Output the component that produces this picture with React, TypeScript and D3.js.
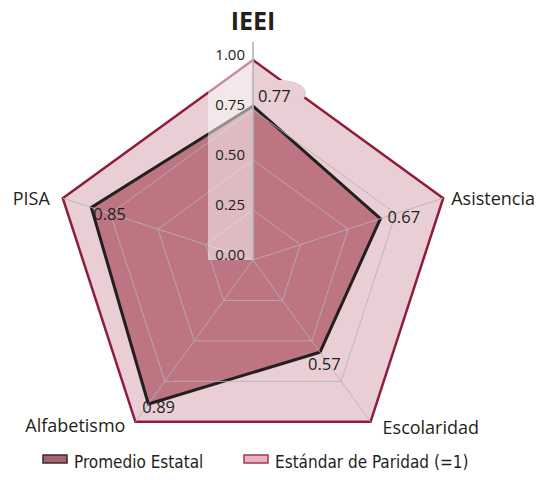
import React, { useEffect, useRef } from 'react';
import * as d3 from 'd3';

const axes = ['IEEI', 'Asistencia', 'Escolaridad', 'Alfabetismo', 'PISA'];
const promedio = [0.77, 0.67, 0.57, 0.89, 0.85];
const paridad = [1, 1, 1, 1, 1];
const ticks = [0, 0.25, 0.5, 0.75, 1];
const legendLabels = ['Promedio Estatal', 'Estándar de Paridad (=1)'];

const FONT = "'Open Sans', 'DejaVu Sans', sans-serif";

const App = () => {
  const ref = useRef<SVGSVGElement>(null);

  useEffect(() => {
    const svg = d3.select(ref.current);
    svg.selectAll('*').remove();

    const width = 542;
    const height = 495;
    const cx = 253;
    const cy = 260;
    const R = 200;

    svg.attr('width', width).attr('height', height);

    const r = d3.scaleLinear().domain([0, 1]).range([0, R]);
    const angle = d3.scaleLinear().domain([0, axes.length]).range([0, 2 * Math.PI]);
    const pt = (i: number, v: number): [number, number] => [
      cx + r(v) * Math.sin(angle(i)),
      cy - r(v) * Math.cos(angle(i)),
    ];
    const line = d3.line<number>().x((d, i) => pt(i, d)[0]).y((d, i) => pt(i, d)[1]).curve(d3.curveLinearClosed);

    // outer standard
    svg.append('path')
      .attr('d', line(paridad))
      .attr('fill', '#e9cfd5')
      .attr('stroke', '#8f1c3b')
      .attr('stroke-width', 2.5)
      .attr('stroke-linejoin', 'miter');

    // bubble behind 0.77
    svg.append('ellipse')
      .attr('cx', 281).attr('cy', 93).attr('rx', 25).attr('ry', 13)
      .attr('fill', '#e9cfd5');

    // state average
    svg.append('path')
      .attr('d', line(promedio))
      .attr('fill', '#bd7582')
      .attr('stroke', '#231f20')
      .attr('stroke-width', 3)
      .attr('stroke-linejoin', 'miter');

    // grid
    const grid = svg.append('g').attr('fill', 'none').attr('stroke', '#b4b4b4').attr('stroke-width', 1).attr('opacity', 0.85);
    ticks.filter(t => t > 0 && t < 1).forEach(t => {
      grid.append('path').attr('d', line(axes.map(() => t)));
    });
    axes.forEach((a, i) => {
      const [x, y] = pt(i, i === 0 ? 1.09 : 1);
      grid.append('line').attr('x1', cx).attr('y1', cy).attr('x2', x).attr('y2', y);
    });

    // tick label panel
    svg.append('rect')
      .attr('x', 208).attr('y', 44).attr('width', 45).attr('height', cy - 44)
      .attr('fill', '#ffffff').attr('opacity', 0.5);

    svg.append('line')
      .attr('x1', cx).attr('y1', cy).attr('x2', cx).attr('y2', cy - r(1.09))
      .attr('stroke', '#b4b4b4').attr('stroke-width', 1.5);

    svg.append('g').selectAll('text')
      .data(ticks)
      .enter().append('text')
      .attr('x', 245)
      .attr('y', d => cy - r(d))
      .attr('text-anchor', 'end')
      .attr('font-family', FONT)
      .attr('font-size', 15)
      .attr('fill', '#231f20')
      .text(d => d3.format('.2f')(d));

    // value labels
    const offs: [number, number][] = [[5, -4], [7, 4], [-12, 18], [-6, 9], [2, 13]];
    svg.append('g').selectAll('text')
      .data(promedio)
      .enter().append('text')
      .attr('x', (d, i) => pt(i, d)[0] + offs[i][0])
      .attr('y', (d, i) => pt(i, d)[1] + offs[i][1])
      .attr('font-family', FONT)
      .attr('font-size', 16.5)
      .attr('fill', '#231f20')
      .text(d => d3.format('.2f')(d));

    // axis labels
    const labelPos: { dx: number; dy: number; anchor: string }[] = [
      { dx: 0, dy: -30, anchor: 'middle' },
      { dx: 8, dy: 7, anchor: 'start' },
      { dx: 12, dy: 12, anchor: 'start' },
      { dx: -10, dy: 10, anchor: 'end' },
      { dx: -13, dy: 7, anchor: 'end' },
    ];
    svg.append('g').selectAll('text')
      .data(axes)
      .enter().append('text')
      .attr('x', (d, i) => pt(i, 1)[0] + labelPos[i].dx)
      .attr('y', (d, i) => pt(i, 1)[1] + labelPos[i].dy)
      .attr('text-anchor', (d, i) => labelPos[i].anchor)
      .attr('font-family', FONT)
      .attr('font-size', (d, i) => (i === 0 ? 25 : 18))
      .attr('font-weight', (d, i) => (i === 0 ? 'bold' : 'normal'))
      .attr('fill', '#231f20')
      .text(d => d);

    // legend
    const legendX = [43, 244];
    const legendFill = ['#a8646f', '#e3b7c1'];
    const legendStroke = ['#3a2a2e', '#a8344f'];
    const lg = svg.append('g');
    legendLabels.forEach((l, i) => {
      lg.append('rect')
        .attr('x', legendX[i]).attr('y', 455).attr('width', 24).attr('height', 8)
        .attr('fill', legendFill[i]).attr('stroke', legendStroke[i]).attr('stroke-width', 1.5);
      lg.append('text')
        .attr('x', legendX[i] + 31).attr('y', 468)
        .attr('font-family', "'DejaVu Sans Condensed', 'Liberation Sans Narrow', sans-serif")
        .attr('font-size', 17)
        .attr('fill', '#231f20')
        .text(l);
    });
  }, []);

  return (
    <div style={{ margin: -8 }}>
      <svg ref={ref}></svg>
    </div>
  );
};

export default App;
